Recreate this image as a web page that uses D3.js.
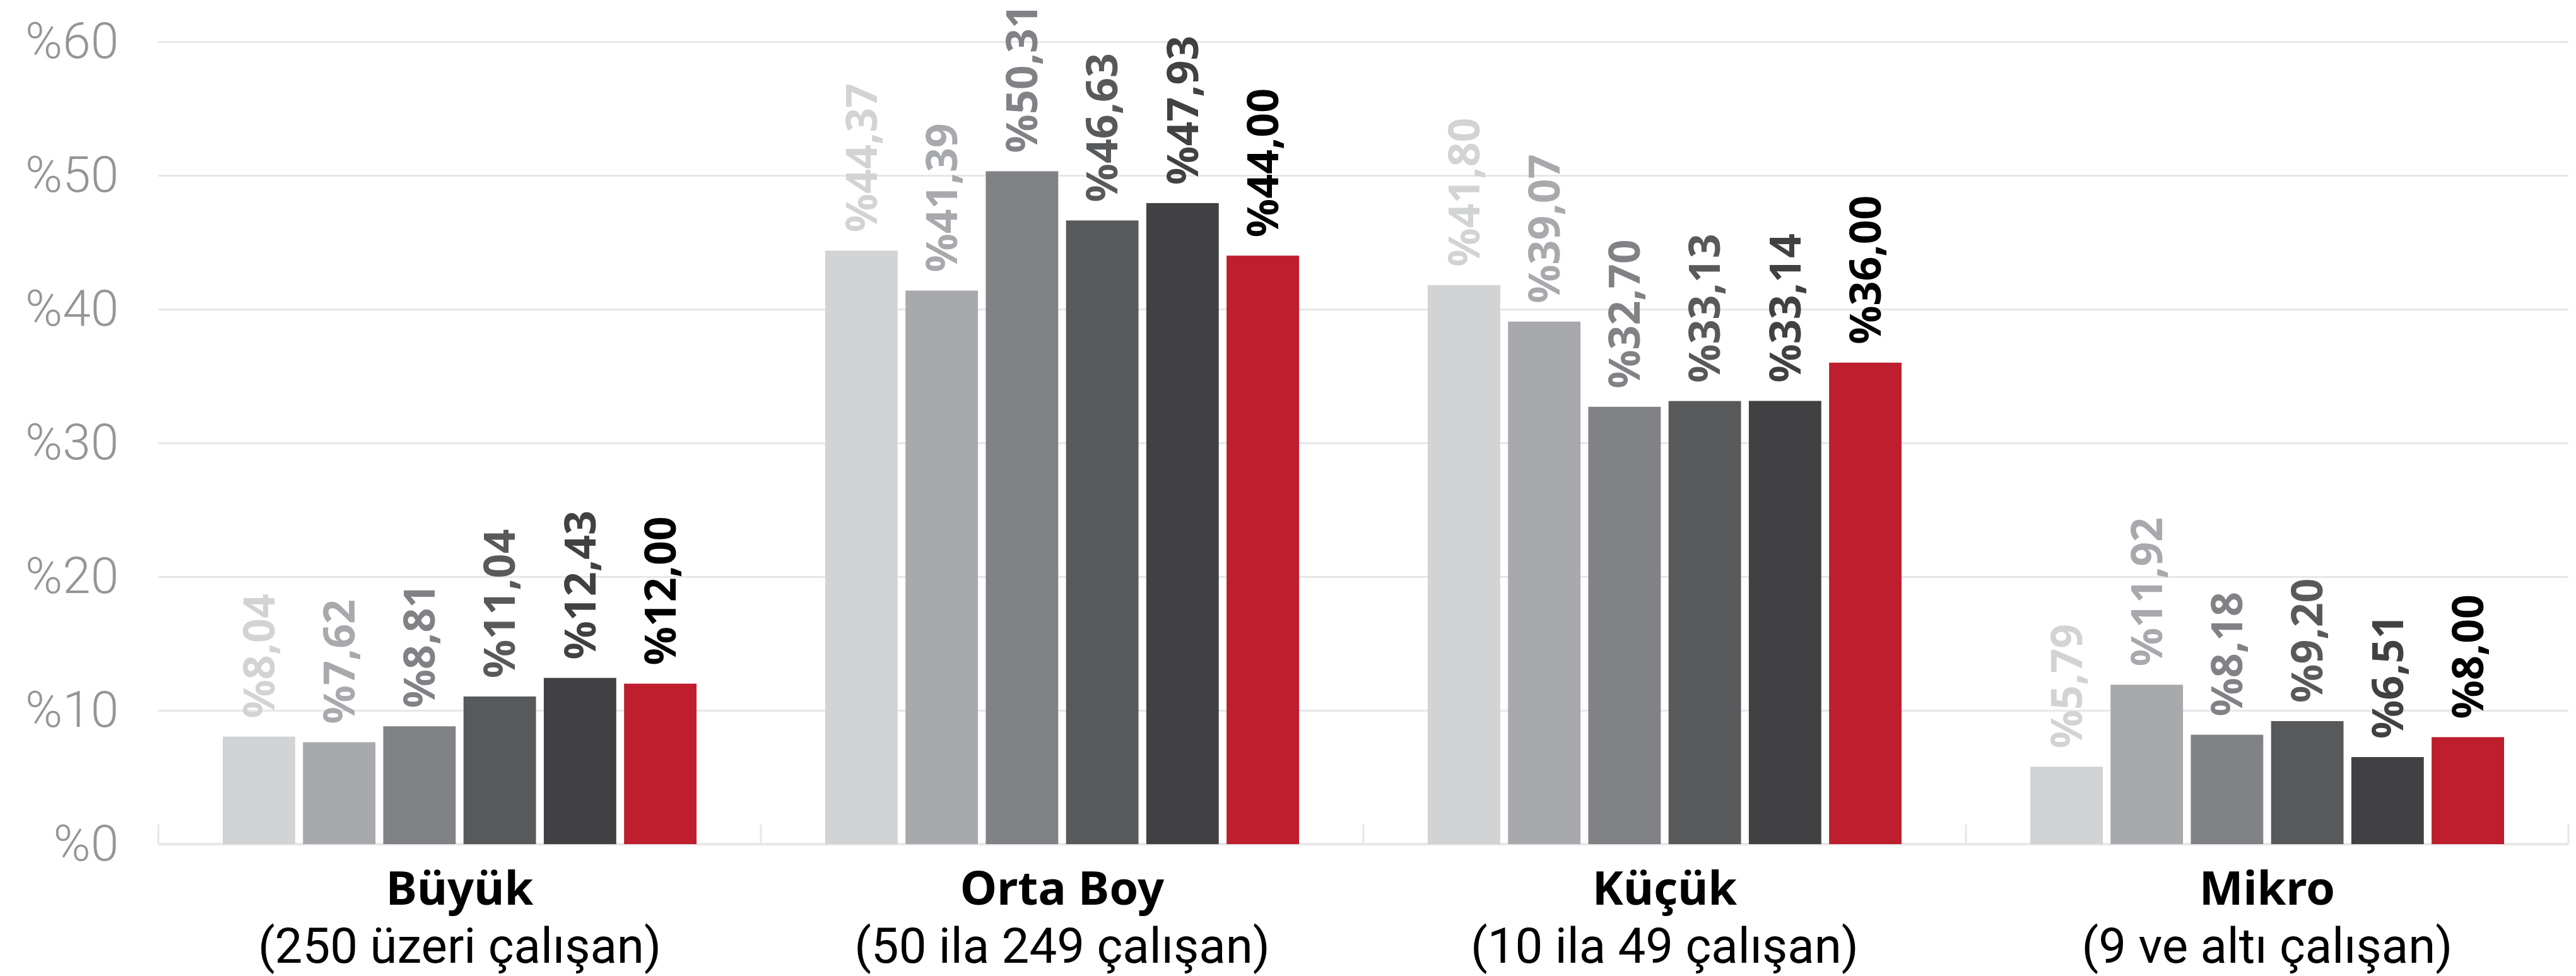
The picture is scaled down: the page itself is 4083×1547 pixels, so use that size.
<!DOCTYPE html>
<html>
<head>
<meta charset="utf-8">
<script src="https://cdn.jsdelivr.net/npm/d3@7"></script>
<style>
  html, body { margin: 0; padding: 0; background: #ffffff; }
  svg { display: block; }
</style>
</head>
<body>
<svg id="chart" width="4083" height="1547"></svg>
<script>
// ---- DATA ----
const categories = ["Büyük", "Orta Boy", "Küçük", "Mikro"];
const subtitles = ["(250 üzeri çalışan)", "(50 ila 249 çalışan)", "(10 ila 49 çalışan)", "(9 ve altı çalışan)"];
const series1 = [8.04, 44.37, 41.80, 5.79];
const series2 = [7.62, 41.39, 39.07, 11.92];
const series3 = [8.81, 50.31, 32.70, 8.18];
const series4 = [11.04, 46.63, 33.13, 9.20];
const series5 = [12.43, 47.93, 33.14, 6.51];
const series6 = [12.00, 44.00, 36.00, 8.00];
const yTicks = [0, 10, 20, 30, 40, 50, 60];

const seriesList = [series1, series2, series3, series4, series5, series6];
const barColors = ["#d1d3d4", "#a7a9ac", "#808285", "#58595b", "#414042", "#be1e2d"];
const labelColors = ["#d1d3d4", "#a7a9ac", "#808285", "#58595b", "#414042", "#000000"];

// ---- LAYOUT ----
const svg = d3.select("#chart");
const mLeft = 251, mRight = 4071, mTop = 66, mBottom = 1338;

const x0 = d3.scaleBand().domain(categories).range([mLeft, mRight]).padding(0);
const x1 = d3.scaleBand().domain(d3.range(seriesList.length))
  .range([102, x0.bandwidth() - 102]).paddingInner(0.0973).paddingOuter(0);
const y = d3.scaleLinear().domain([0, 60]).range([mBottom, mTop]);

// gridlines + y labels
const yAxis = d3.axisLeft(y)
  .tickValues(yTicks)
  .tickFormat(d => "%" + d)
  .tickSize(-(mRight - mLeft))
  .tickPadding(63);

const gy = svg.append("g").attr("transform", `translate(${mLeft},0)`).call(yAxis);
gy.select(".domain").remove();
gy.selectAll(".tick line").attr("stroke", "#e6e7e8").attr("stroke-width", 3);
gy.selectAll(".tick text")
  .attr("fill", "#939598")
  .style("font-family", "Roboto, 'Noto Sans', sans-serif")
  .style("font-weight", 300)
  .style("font-size", "80px");

// baseline axis with group boundary ticks
const boundaries = categories.map(c => x0(c)).concat([mRight]);
const gx = svg.append("g");
gx.append("line")
  .attr("x1", mLeft).attr("x2", mRight)
  .attr("y1", y(0)).attr("y2", y(0))
  .attr("stroke", "#e6e7e8").attr("stroke-width", 4);
gx.selectAll("line.bt").data(boundaries).enter().append("line")
  .attr("class", "bt")
  .attr("x1", d => d).attr("x2", d => d)
  .attr("y1", y(0)).attr("y2", y(0) - 31)
  .attr("stroke", "#e6e7e8").attr("stroke-width", 3);

// bars
const groups = svg.append("g").selectAll("g.grp")
  .data(categories).enter().append("g")
  .attr("class", "grp")
  .attr("transform", c => `translate(${x0(c)},0)`);

groups.each(function(c, ci) {
  const g = d3.select(this);
  seriesList.forEach((s, si) => {
    const v = s[ci];
    g.append("rect")
      .attr("x", x1(si))
      .attr("width", x1.bandwidth())
      .attr("y", y(v))
      .attr("height", y(0) - y(v))
      .attr("fill", barColors[si]);
    g.append("text")
      .attr("transform", `translate(${x1(si) + x1.bandwidth() / 2},${y(v) - 29}) rotate(-90)`)
      .attr("dy", "0.357em")
      .attr("text-anchor", "start")
      .attr("fill", labelColors[si])
      .style("font-family", "'Noto Sans', sans-serif")
      .style("font-weight", 700)
      .style("font-size", "68px")
      .text("%" + v.toFixed(2).replace(".", ","));
  });
});

// category labels
const labels = svg.append("g").selectAll("g.cl")
  .data(categories).enter().append("g")
  .attr("class", "cl")
  .attr("transform", c => `translate(${x0(c) + x0.bandwidth() / 2},0)`);
labels.append("text")
  .attr("y", 1434)
  .attr("text-anchor", "middle")
  .attr("fill", "#000")
  .style("font-family", "'Noto Sans', sans-serif")
  .style("font-weight", 700)
  .style("font-size", "74px")
  .text(c => c);
labels.append("text")
  .attr("y", 1526)
  .attr("text-anchor", "middle")
  .attr("fill", "#000")
  .style("font-family", "Roboto, 'Noto Sans', sans-serif")
  .style("font-weight", 400)
  .style("font-size", "78px")
  .text((c, i) => subtitles[i]);
</script>
</body>
</html>
